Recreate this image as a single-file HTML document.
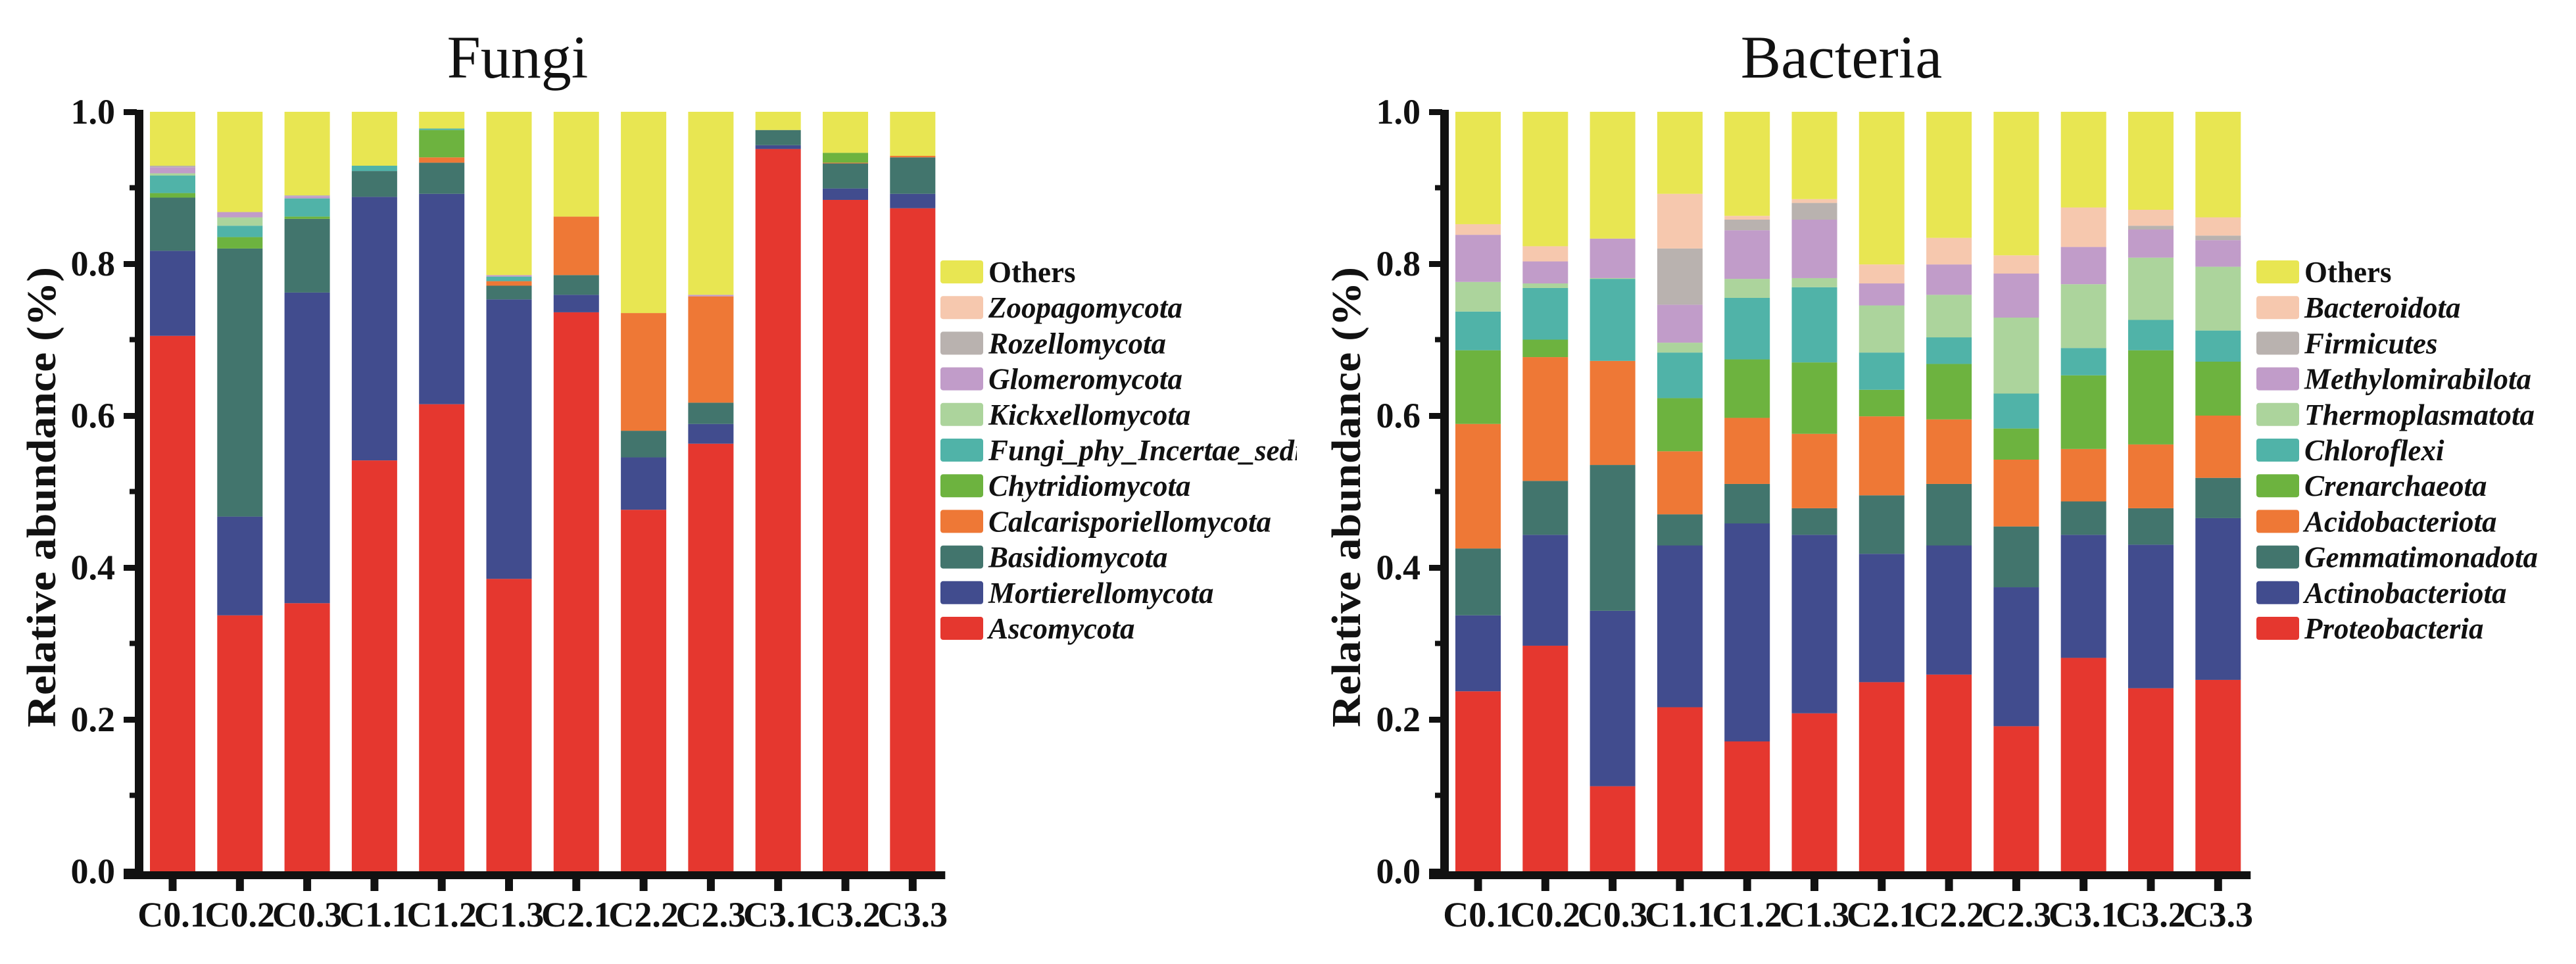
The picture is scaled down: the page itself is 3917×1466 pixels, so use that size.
<!DOCTYPE html>
<html><head><meta charset="utf-8"><style>
html,body{margin:0;padding:0;background:#fff;}
svg{display:block;}
text{font-family:"Liberation Serif",serif;fill:#111;}
</style></head><body>
<svg id="chart" width="3917" height="1466" viewBox="0 0 3917 1466" xmlns="http://www.w3.org/2000/svg">
<defs><clipPath id="fclip"><rect x="1400" y="350" width="572" height="700"/></clipPath></defs>
<rect width="3917" height="1466" fill="#fff"/>
<text x="787" y="118" font-size="92" text-anchor="middle">Fungi</text>
<text x="2800" y="118" font-size="92" text-anchor="middle">Bacteria</text>
<g id="fungi"></g>
<g id="bacteria"></g>
</svg>
<script>
const samples = ["C0.1","C0.2","C0.3","C1.1","C1.2","C1.3","C2.1","C2.2","C2.3","C3.1","C3.2","C3.3"];
const yTicks = [0,0.2,0.4,0.6,0.8,1.0];
const yTickLabels = ["0.0","0.2","0.4","0.6","0.8","1.0"];
const minorTicks = [0.1,0.3,0.5,0.7,0.9];
const fungiSeries = ["Ascomycota","Mortierellomycota","Basidiomycota","Calcarisporiellomycota","Chytridiomycota","Fungi_phy_Incertae_sedis","Kickxellomycota","Glomeromycota","Rozellomycota","Zoopagomycota","Others"];
const fungiAscomycota = [0.705,0.337,0.353,0.541,0.615,0.385,0.736,0.476,0.563,0.951,0.884,0.873];
const fungiMortierellomycota = [0.112,0.130,0.409,0.347,0.277,0.368,0.023,0.069,0.026,0.005,0.015,0.019];
const fungiBasidiomycota = [0.070,0.353,0.097,0.034,0.041,0.018,0.026,0.035,0.028,0.020,0.033,0.048];
const fungiCalcarisporiellomycota = [0,0,0,0,0.007,0.006,0.077,0.155,0.140,0,0.001,0.002];
const fungiChytridiomycota = [0.006,0.015,0.003,0,0.036,0,0,0,0,0,0.013,0];
const fungiIncertae = [0.023,0.015,0.024,0.007,0.002,0.006,0,0,0,0,0,0];
const fungiKickxellomycota = [0.003,0.011,0,0,0,0,0,0,0,0,0,0];
const fungiGlomeromycota = [0.008,0.007,0.003,0,0,0.002,0,0,0.002,0,0,0];
const fungiRozellomycota = [0.002,0,0.001,0,0,0,0,0,0,0,0,0];
const fungiZoopagomycota = [0,0,0,0,0,0,0,0,0,0,0,0];
const bactSeries = ["Proteobacteria","Actinobacteriota","Gemmatimonadota","Acidobacteriota","Crenarchaeota","Chloroflexi","Thermoplasmatota","Methylomirabilota","Firmicutes","Bacteroidota","Others"];
const bactProteobacteria = [0.237,0.297,0.112,0.216,0.171,0.208,0.249,0.259,0.191,0.281,0.241,0.252];
const bactActinobacteriota = [0.100,0.146,0.231,0.213,0.287,0.235,0.169,0.170,0.183,0.162,0.189,0.213];
const bactGemmatimonadota = [0.088,0.071,0.192,0.041,0.052,0.035,0.077,0.081,0.080,0.044,0.048,0.053];
const bactAcidobacteriota = [0.164,0.163,0.137,0.083,0.087,0.098,0.104,0.085,0.088,0.069,0.084,0.082];
const bactCrenarchaeota = [0.097,0.023,0,0.070,0.077,0.094,0.035,0.073,0.041,0.097,0.124,0.071];
const bactChloroflexi = [0.051,0.068,0.108,0.060,0.081,0.099,0.049,0.035,0.046,0.036,0.040,0.041];
const bactThermoplasmatota = [0.039,0.006,0.001,0.013,0.025,0.012,0.062,0.056,0.100,0.084,0.082,0.084];
const bactMethylomirabilota = [0.062,0.029,0.052,0.050,0.064,0.077,0.029,0.040,0.058,0.049,0.037,0.035];
const bactFirmicutes = [0,0,0,0.074,0.014,0.022,0,0,0,0,0.005,0.006];
const bactBacteroidota = [0.014,0.020,0,0.072,0.005,0.005,0.025,0.035,0.024,0.052,0.021,0.024];

const colors = ["#E5372F","#414C8E","#42756D","#EE7836","#6DB33F","#50B3A8","#ACD49C","#C19CC9","#B9B2AF","#F6C8AE","#E8E652"];
const NS = "http://www.w3.org/2000/svg";
function mk(parent, tag, attrs, txt){const e=document.createElementNS(NS,tag);for(const k in attrs)e.setAttribute(k,attrs[k]);if(txt!==undefined)e.textContent=txt;parent.appendChild(e);return e;}

function drawChart(gid, prefix, axisX, barX0, seriesNames, seriesData, legendX, titleX, clip){
  const g=document.getElementById(gid);
  const y0=1325, yTop=170, pitch=102.3, bw=69;
  const yScale=v=>y0-v*(y0-yTop);
  const xScale=i=>barX0+i*pitch;
  samples.forEach((s,i)=>{
    let cum=0;
    const vals=seriesData.map(a=>a[i]);
    const sum=vals.reduce((a,b)=>a+b,0);
    vals.push(Math.max(0,1-sum));
    vals.forEach((v,k)=>{
      if(v<=0)return;
      const r=mk(g,'rect',{x:xScale(i),y:yScale(cum+v),width:bw,height:yScale(cum)-yScale(cum+v),fill:colors[k]});
      
      
      cum+=v;
    });
  });
  const ya=mk(g,'rect',{x:axisX,y:yTop-3,width:13,height:y0-yTop+15,fill:'#111'});
  
  
  const xEnd=xScale(11)+bw+15;
  const xa=mk(g,'rect',{x:axisX-17,y:y0,width:xEnd-(axisX-17),height:12,fill:'#111'});
  
  
  yTicks.forEach((t,k)=>{
    const yy=yScale(t);
    const tk=mk(g,'rect',{x:axisX-17,y:yy-4,width:20,height:9,fill:'#111'});
    
    
    const tl=mk(g,'text',{x:axisX-30,y:yy+18,'font-size':54,'font-weight':'bold','text-anchor':'end'},yTickLabels[k]);
    
    
  });
  minorTicks.forEach(t=>{
    const tk=mk(g,'rect',{x:axisX-8,y:yScale(t)-4,width:10,height:8,fill:'#111'});
    
    
  });
  samples.forEach((s,i)=>{
    const cx=xScale(i)+bw/2;
    const tk=mk(g,'rect',{x:cx-6,y:y0+10,width:12,height:20,fill:'#111'});
    
    
    const tl=mk(g,'text',{x:cx,y:1409,'font-size':54,'font-weight':'bold','text-anchor':'middle'},s);
    
    
  });
  const yt=mk(g,'text',{transform:'translate('+titleX+',756) rotate(-90)','font-size':62,'font-weight':'bold','text-anchor':'middle',textLength:700,lengthAdjust:'spacingAndGlyphs'},'Relative abundance (%)');
  
  
  const lg=mk(g,'g',{});
  
  
  const lt=mk(g,'g',clip?{'clip-path':'url(#fclip)'}:{});
  for(let r=0;r<11;r++){
    const k=10-r;
    const yy=396+r*54.2;
    const sw=mk(lg,'rect',{x:legendX,y:yy,width:65,height:35,rx:4,fill:colors[k]});
    
    
    const attrs={x:legendX+73,y:yy+33,'font-size':45,'font-weight':'bold'};
    if(k!==10)attrs['font-style']='italic';
    const tx=mk(lt,'text',attrs,seriesNames[k]);
    
    
  }
}
drawChart('fungi','fungi',205,228,fungiSeries,[fungiAscomycota,fungiMortierellomycota,fungiBasidiomycota,fungiCalcarisporiellomycota,fungiChytridiomycota,fungiIncertae,fungiKickxellomycota,fungiGlomeromycota,fungiRozellomycota,fungiZoopagomycota],1430,84,true);
drawChart('bacteria','bacteria',2190,2213,bactSeries,[bactProteobacteria,bactActinobacteriota,bactGemmatimonadota,bactAcidobacteriota,bactCrenarchaeota,bactChloroflexi,bactThermoplasmatota,bactMethylomirabilota,bactFirmicutes,bactBacteroidota],3431,2068,false);
</script>
</body></html>
